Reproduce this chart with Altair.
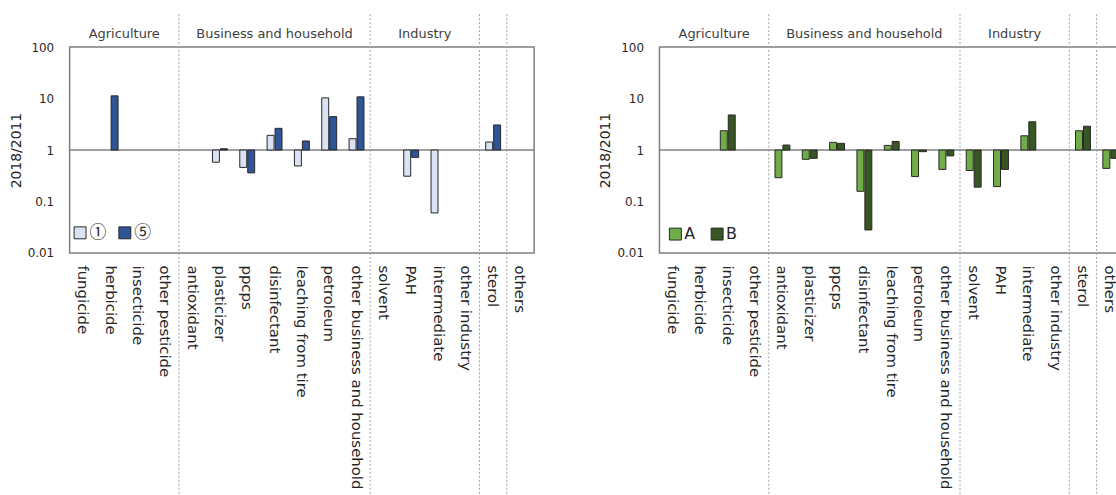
import altair as alt
import pandas as pd

cats = ["fungicide", "herbicide", "insecticide", "other pesticide", "antioxidant",
        "plasticizer", "ppcps", "disinfectant", "leaching from tire", "petroleum",
        "other business and household", "solvent", "PAH", "intermediate",
        "other industry", "sterol", "others"]

left_names = ["①", "⑤"]
left_s1 = [None, None, None, None, None, 0.58, 0.46, 1.93, 0.49, 10.3, 1.66,
           None, 0.31, 0.06, None, 1.43, None]
left_s2 = [None, 11.3, None, None, None, 1.06, 0.36, 2.64, 1.5, 4.45, 10.8,
           None, 0.72, None, None, 3.07, None]

right_names = ["A", "B"]
right_s1 = [None, None, 2.37, None, 0.29, 0.66, 1.41, 0.158, 1.23, 0.305, 0.42,
            0.40, 0.195, 1.89, None, 2.37, 0.44]
right_s2 = [None, None, 4.8, None, 1.25, 0.69, 1.35, 0.028, 1.47, 0.93, 0.77,
            0.19, 0.42, 3.54, None, 2.9, 0.69]

separators = ["antioxidant", "solvent", "sterol", "others"]
headers_edge = [("insecticide", "Agriculture"), ("intermediate", "Industry")]
headers_mid = [("disinfectant", "Business and household")]

FONT = "DejaVu Sans"
W, H = 467, 207


def xenc(**kw):
    return alt.X("cat:N", sort=cats, title=None,
                 scale=alt.Scale(domain=cats, paddingInner=0, paddingOuter=0),
                 axis=alt.Axis(labelAngle=90, ticks=False, domain=False, grid=False,
                               labelPadding=12, labelFontSize=15, labelFont=FONT,
                               labelColor="#262626", labelLimit=400),
                 **kw)


def panel(names, s1, s2, colors, legend_font, legend_size, lx, ly, loff, lcol,
          rule_top, rule_bottom):
    rows = []
    for c, a, b in zip(cats, s1, s2):
        if a is not None:
            rows.append({"cat": c, "series": names[0], "value": a})
        if b is not None:
            rows.append({"cat": c, "series": names[1], "value": b})
    df = pd.DataFrame(rows)

    yenc = alt.Y("value:Q",
                 scale=alt.Scale(type="log", domain=[0.01, 100]),
                 axis=alt.Axis(values=[0.01, 0.1, 1, 10, 100], format="~g",
                               title="2018/2011", titleFontSize=14, titleFontWeight="normal",
                               titleFont=FONT, titleColor="#262626", titlePadding=4,
                               labelFontSize=12, labelFont=FONT, labelColor="#262626",
                               labelPadding=16, ticks=False, domain=False, grid=False))

    bars = alt.Chart(df).mark_bar(stroke="#262626", strokeWidth=1).encode(
        x=xenc(),
        xOffset=alt.XOffset("series:N", sort=names,
                            scale=alt.Scale(domain=names, paddingInner=0.125, paddingOuter=0.78)),
        y=yenc,
        y2=alt.datum(1),
        color=alt.Color("series:N", sort=names,
                        scale=alt.Scale(domain=names, range=colors),
                        legend=alt.Legend(title=None, orient="none", legendX=lx, legendY=ly,
                                          direction="horizontal", symbolType="square",
                                          symbolSize=144, symbolStrokeColor="#262626",
                                          symbolStrokeWidth=1, symbolOpacity=1,
                                          labelFont=legend_font, labelFontSize=legend_size,
                                          labelColor="#262626", labelOffset=loff,
                                          columnPadding=lcol, padding=0)),
    )

    base = alt.Chart(pd.DataFrame({"one": [1]})).mark_rule(
        color="#808080", strokeWidth=1.5).encode(y=alt.datum(1))

    sep = alt.Chart(pd.DataFrame({"cat": separators})).mark_rule(
        color="#a0a0a0", strokeWidth=1, strokeDash=[2, 2]).encode(
        x=xenc(bandPosition=0),
        y=alt.value(rule_top), y2=alt.value(rule_bottom))

    h1 = alt.Chart(pd.DataFrame(headers_edge, columns=["cat", "label"])).mark_text(
        font=FONT, fontSize=13, color="#404040", baseline="middle").encode(
        x=xenc(bandPosition=0), y=alt.value(-13), text="label:N")
    h2 = alt.Chart(pd.DataFrame(headers_mid, columns=["cat", "label"])).mark_text(
        font=FONT, fontSize=13, color="#404040", baseline="middle").encode(
        x=xenc(bandPosition=0.5), y=alt.value(-13), text="label:N")

    return alt.layer(sep, base, bars, h1, h2).properties(width=W, height=H)


left = panel(left_names, left_s1, left_s2, ["#dae3f3", "#2f5597"],
             "Noto Sans CJK JP", 17, 2, 178, 1, 10, -33, 451)
right = panel(right_names, right_s1, right_s2, ["#70ad47", "#375623"],
              FONT, 16, 8, 180, 1, 14, -33, 451)

chart = alt.hconcat(left, right, spacing=62).resolve_scale(
    color="independent", x="independent", y="independent", xOffset="independent"
).resolve_legend(color="independent").properties(
    padding={"left": 8, "top": 11, "right": -10, "bottom": 0},
    background="white"
).configure_view(stroke="#7f7f7f", strokeWidth=1.5)

chart.save("out.html", embed_options={"renderer": "svg", "actions": False})
